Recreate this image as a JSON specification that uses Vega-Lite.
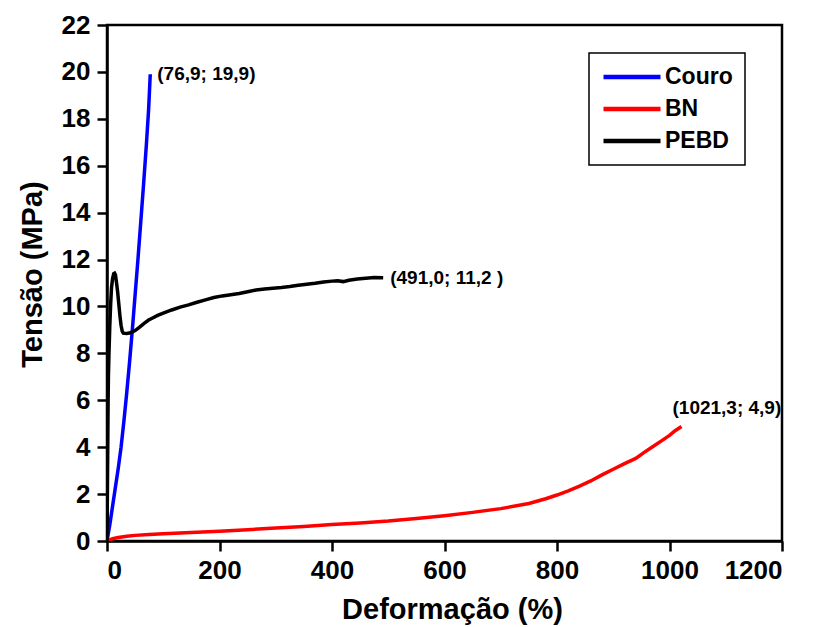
{
  "$schema": "https://vega.github.io/schema/vega-lite/v6.json",
  "autosize": "none",
  "width": 675,
  "height": 516,
  "padding": {"left": 107, "top": 25, "right": 34, "bottom": 86},
  "background": "white",
  "config": {
    "view": {"stroke": "black", "strokeWidth": 2.5},
    "font": "Liberation Sans",
    "axis": {
      "grid": false,
      "domainColor": "black",
      "domainWidth": 2.5,
      "tickColor": "black",
      "tickWidth": 2.5,
      "tickSize": 10,
      "labelFont": "Liberation Sans",
      "labelFontWeight": "bold",
      "labelFontSize": 26,
      "labelColor": "black",
      "titleFont": "Liberation Sans",
      "titleFontWeight": "bold",
      "titleFontSize": 29,
      "titleColor": "black"
    },
    "legend": {
      "orient": "none",
      "legendX": 482,
      "legendY": 28,
      "padding": 12,
      "strokeColor": "black",
      "fillColor": "white",
      "strokeWidth": 1.5,
      "labelFont": "Liberation Sans",
      "labelFontWeight": "bold",
      "labelFontSize": 23,
      "labelColor": "black",
      "symbolType": "M-1,0H5",
      "symbolSize": 361,
      "symbolStrokeWidth": 4.5,
      "labelOffset": 40,
      "rowPadding": 8,
      "title": null
    }
  },
  "datasets": {
    "curves": [
      {"serie": "Couro", "def": 0, "tensao": 0},
      {"serie": "Couro", "def": 5, "tensao": 0.7},
      {"serie": "Couro", "def": 10, "tensao": 1.5},
      {"serie": "Couro", "def": 15, "tensao": 2.3},
      {"serie": "Couro", "def": 20, "tensao": 3.1},
      {"serie": "Couro", "def": 25, "tensao": 4.0},
      {"serie": "Couro", "def": 30, "tensao": 5.1},
      {"serie": "Couro", "def": 35, "tensao": 6.3},
      {"serie": "Couro", "def": 40, "tensao": 7.6},
      {"serie": "Couro", "def": 45, "tensao": 9.0},
      {"serie": "Couro", "def": 50, "tensao": 10.5},
      {"serie": "Couro", "def": 55, "tensao": 12.0},
      {"serie": "Couro", "def": 60, "tensao": 13.6},
      {"serie": "Couro", "def": 65, "tensao": 15.2},
      {"serie": "Couro", "def": 70, "tensao": 16.9},
      {"serie": "Couro", "def": 74, "tensao": 18.4},
      {"serie": "Couro", "def": 76.9, "tensao": 19.9},

      {"serie": "BN", "def": 0, "tensao": 0},
      {"serie": "BN", "def": 5, "tensao": 0.05},
      {"serie": "BN", "def": 10, "tensao": 0.1},
      {"serie": "BN", "def": 20, "tensao": 0.15},
      {"serie": "BN", "def": 35, "tensao": 0.2},
      {"serie": "BN", "def": 50, "tensao": 0.24},
      {"serie": "BN", "def": 75, "tensao": 0.28},
      {"serie": "BN", "def": 100, "tensao": 0.31},
      {"serie": "BN", "def": 150, "tensao": 0.36},
      {"serie": "BN", "def": 200, "tensao": 0.42},
      {"serie": "BN", "def": 250, "tensao": 0.48},
      {"serie": "BN", "def": 300, "tensao": 0.55},
      {"serie": "BN", "def": 350, "tensao": 0.62},
      {"serie": "BN", "def": 400, "tensao": 0.7},
      {"serie": "BN", "def": 450, "tensao": 0.77},
      {"serie": "BN", "def": 500, "tensao": 0.85},
      {"serie": "BN", "def": 550, "tensao": 0.96},
      {"serie": "BN", "def": 600, "tensao": 1.08},
      {"serie": "BN", "def": 650, "tensao": 1.22},
      {"serie": "BN", "def": 700, "tensao": 1.38},
      {"serie": "BN", "def": 750, "tensao": 1.6},
      {"serie": "BN", "def": 780, "tensao": 1.8},
      {"serie": "BN", "def": 800, "tensao": 1.96},
      {"serie": "BN", "def": 820, "tensao": 2.14},
      {"serie": "BN", "def": 840, "tensao": 2.34},
      {"serie": "BN", "def": 860, "tensao": 2.56},
      {"serie": "BN", "def": 880, "tensao": 2.82},
      {"serie": "BN", "def": 900, "tensao": 3.06},
      {"serie": "BN", "def": 920, "tensao": 3.3},
      {"serie": "BN", "def": 940, "tensao": 3.52},
      {"serie": "BN", "def": 955, "tensao": 3.78},
      {"serie": "BN", "def": 970, "tensao": 4.02},
      {"serie": "BN", "def": 985, "tensao": 4.26},
      {"serie": "BN", "def": 1000, "tensao": 4.5},
      {"serie": "BN", "def": 1010, "tensao": 4.7},
      {"serie": "BN", "def": 1021.3, "tensao": 4.88},

      {"serie": "PEBD", "def": 0, "tensao": 0},
      {"serie": "PEBD", "def": 0.5, "tensao": 1.5},
      {"serie": "PEBD", "def": 1, "tensao": 3},
      {"serie": "PEBD", "def": 1.5, "tensao": 4.5},
      {"serie": "PEBD", "def": 2, "tensao": 6},
      {"serie": "PEBD", "def": 2.5, "tensao": 7},
      {"serie": "PEBD", "def": 3.5, "tensao": 8},
      {"serie": "PEBD", "def": 5, "tensao": 9.2},
      {"serie": "PEBD", "def": 6.5, "tensao": 10.1},
      {"serie": "PEBD", "def": 8, "tensao": 10.8},
      {"serie": "PEBD", "def": 10, "tensao": 11.2},
      {"serie": "PEBD", "def": 12, "tensao": 11.4},
      {"serie": "PEBD", "def": 13.5, "tensao": 11.42},
      {"serie": "PEBD", "def": 15, "tensao": 11.35},
      {"serie": "PEBD", "def": 17, "tensao": 11.0},
      {"serie": "PEBD", "def": 19, "tensao": 10.6},
      {"serie": "PEBD", "def": 21, "tensao": 10.1},
      {"serie": "PEBD", "def": 23, "tensao": 9.6},
      {"serie": "PEBD", "def": 25, "tensao": 9.2},
      {"serie": "PEBD", "def": 27, "tensao": 8.95},
      {"serie": "PEBD", "def": 29, "tensao": 8.86},
      {"serie": "PEBD", "def": 35, "tensao": 8.85},
      {"serie": "PEBD", "def": 42, "tensao": 8.88},
      {"serie": "PEBD", "def": 50, "tensao": 8.97},
      {"serie": "PEBD", "def": 58, "tensao": 9.12},
      {"serie": "PEBD", "def": 66, "tensao": 9.28},
      {"serie": "PEBD", "def": 74, "tensao": 9.42},
      {"serie": "PEBD", "def": 82, "tensao": 9.52},
      {"serie": "PEBD", "def": 90, "tensao": 9.62},
      {"serie": "PEBD", "def": 100, "tensao": 9.72},
      {"serie": "PEBD", "def": 115, "tensao": 9.85},
      {"serie": "PEBD", "def": 130, "tensao": 9.97},
      {"serie": "PEBD", "def": 145, "tensao": 10.07},
      {"serie": "PEBD", "def": 160, "tensao": 10.18},
      {"serie": "PEBD", "def": 175, "tensao": 10.28},
      {"serie": "PEBD", "def": 190, "tensao": 10.38},
      {"serie": "PEBD", "def": 205, "tensao": 10.45},
      {"serie": "PEBD", "def": 220, "tensao": 10.5},
      {"serie": "PEBD", "def": 235, "tensao": 10.55},
      {"serie": "PEBD", "def": 250, "tensao": 10.63},
      {"serie": "PEBD", "def": 265, "tensao": 10.7},
      {"serie": "PEBD", "def": 280, "tensao": 10.74},
      {"serie": "PEBD", "def": 295, "tensao": 10.78},
      {"serie": "PEBD", "def": 310, "tensao": 10.81},
      {"serie": "PEBD", "def": 325, "tensao": 10.85},
      {"serie": "PEBD", "def": 340, "tensao": 10.9},
      {"serie": "PEBD", "def": 355, "tensao": 10.95},
      {"serie": "PEBD", "def": 370, "tensao": 10.99},
      {"serie": "PEBD", "def": 385, "tensao": 11.04},
      {"serie": "PEBD", "def": 400, "tensao": 11.08},
      {"serie": "PEBD", "def": 410, "tensao": 11.1},
      {"serie": "PEBD", "def": 420, "tensao": 11.06},
      {"serie": "PEBD", "def": 430, "tensao": 11.12},
      {"serie": "PEBD", "def": 445, "tensao": 11.17},
      {"serie": "PEBD", "def": 460, "tensao": 11.2},
      {"serie": "PEBD", "def": 475, "tensao": 11.23},
      {"serie": "PEBD", "def": 491, "tensao": 11.22}
    ],
    "ends": [
      {"serie": "Couro", "def": 76.9, "tensao": 19.9, "rotulo": "(76,9; 19,9)"},
      {"serie": "PEBD", "def": 491, "tensao": 11.2, "rotulo": "(491,0; 11,2 )"}
    ],
    "endsBN": [
      {"serie": "BN", "def": 1021.3, "tensao": 4.9, "rotulo": "(1021,3; 4,9)"}
    ]
  },
  "layer": [
    {
      "data": {"name": "curves"},
      "mark": {"type": "line", "strokeWidth": 3.5, "clip": true},
      "encoding": {
        "x": {
          "field": "def",
          "type": "quantitative",
          "scale": {"domain": [0, 1200], "nice": false, "zero": false},
          "axis": {"values": [0, 200, 400, 600, 800, 1000, 1200], "format": "d", "title": "Deformação (%)", "labelPadding": 6, "titlePadding": 12, "titleX": 345}
        },
        "y": {
          "field": "tensao",
          "type": "quantitative",
          "scale": {"domain": [0, 22], "nice": false, "zero": false},
          "axis": {"values": [0, 2, 4, 6, 8, 10, 12, 14, 16, 18, 20, 22], "format": "d", "title": "Tensão (MPa)", "labelPadding": 7, "titlePadding": 14, "titleY": 249}
        },
        "color": {
          "field": "serie",
          "type": "nominal",
          "scale": {"domain": ["Couro", "BN", "PEBD"], "range": ["#0000ff", "#ff0000", "#000000"]},
          "legend": {}
        },
        "order": {"field": "def", "type": "quantitative"}
      }
    },
    {
      "data": {"name": "ends"},
      "mark": {"type": "text", "align": "left", "baseline": "middle", "dx": 7, "fontSize": 19, "fontWeight": "bold", "font": "Liberation Sans", "color": "black"},
      "encoding": {
        "x": {"field": "def", "type": "quantitative"},
        "y": {"field": "tensao", "type": "quantitative"},
        "text": {"field": "rotulo"}
      }
    },
    {
      "data": {"name": "endsBN"},
      "mark": {"type": "text", "align": "left", "baseline": "middle", "dx": -9, "dy": -18, "fontSize": 19, "fontWeight": "bold", "font": "Liberation Sans", "color": "black"},
      "encoding": {
        "x": {"field": "def", "type": "quantitative"},
        "y": {"field": "tensao", "type": "quantitative"},
        "text": {"field": "rotulo"}
      }
    }
  ]
}
